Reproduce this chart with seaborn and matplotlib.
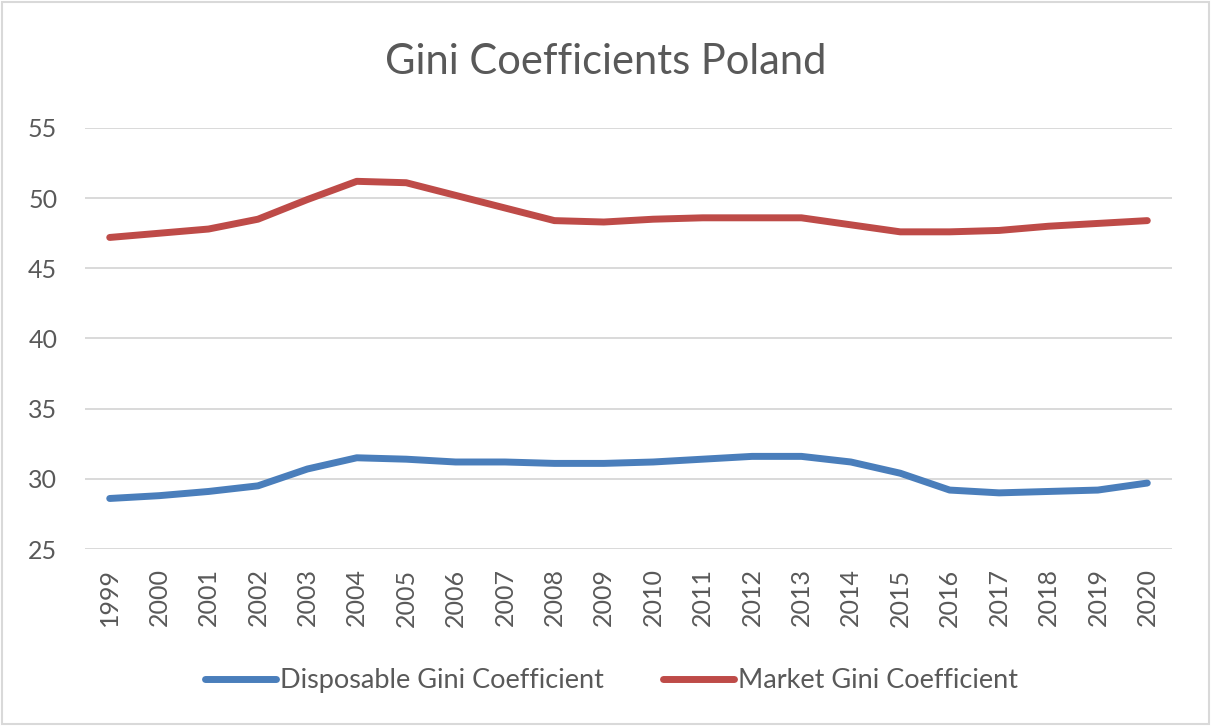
import matplotlib
matplotlib.use("Agg")
import matplotlib.pyplot as plt
import matplotlib.patches as mpatches
import seaborn as sns
import pandas as pd

years = list(range(1999, 2021))
disposable_gini = [28.6, 28.8, 29.1, 29.5, 30.7, 31.5, 31.4, 31.2, 31.2, 31.1, 31.1,
                   31.2, 31.4, 31.6, 31.6, 31.2, 30.4, 29.2, 29.0, 29.1, 29.2, 29.7]
market_gini = [47.2, 47.5, 47.8, 48.5, 49.9, 51.2, 51.1, 50.2, 49.3, 48.4, 48.3,
               48.5, 48.6, 48.6, 48.6, 48.1, 47.6, 47.6, 47.7, 48.0, 48.2, 48.4]
series_names = ["Disposable Gini Coefficient", "Market Gini Coefficient"]
title_text = "Gini Coefficients Poland"

df = pd.DataFrame({
    "Year": years * 2,
    "Gini": disposable_gini + market_gini,
    "Series": [series_names[0]] * len(years) + [series_names[1]] * len(years),
})

sns.set_theme(style="white")
plt.rcParams["font.family"] = ["Lato", "DejaVu Sans"]

text_grey = "#595959"
grid_grey = "#d9d9d9"
palette = {series_names[0]: "#4a7ebb", series_names[1]: "#be4b48"}
line_w = 5.0

fig = plt.figure(figsize=(12.11, 7.26), dpi=100)
ax = fig.add_axes([0.0702, 0.2438, 0.8976, 0.5799])

sns.lineplot(data=df, x="Year", y="Gini", hue="Series", palette=palette,
             linewidth=line_w, ax=ax, legend=False, solid_capstyle="round")

ax.set_xlim(1998.5, 2020.5)
ax.set_ylim(25, 55)
ax.set_yticks(range(25, 56, 5))
ax.set_xticks(years)
ax.set_xticklabels([str(y) for y in years], rotation=90)
ax.tick_params(axis="both", length=0, colors=text_grey, labelsize=18)
ax.tick_params(axis="y", pad=20)
ax.tick_params(axis="x", pad=14)
ax.set_xlabel("")
ax.set_ylabel("")
ax.grid(axis="y", color=grid_grey, linewidth=1.4)
ax.grid(axis="x", visible=False)
for side in ["top", "right", "left", "bottom"]:
    ax.spines[side].set_visible(False)
ax.set_axisbelow(True)

fig.text(0.5, 0.915, title_text, ha="center", va="center",
         fontsize=30, color=text_grey)

handles = [plt.Line2D([0], [0], color=palette[n], linewidth=line_w,
                      solid_capstyle="round") for n in series_names]
fig.legend(handles, series_names, loc="center", bbox_to_anchor=(0.505, 0.062),
           ncol=2, frameon=False, fontsize=19.5, labelcolor=text_grey,
           handlelength=2.6, handletextpad=0.15, columnspacing=2.2)

fig.patches.append(mpatches.Rectangle((0.002, 0.003), 0.996, 0.994,
                                      transform=fig.transFigure, fill=False,
                                      edgecolor="#d9d9d9", linewidth=1.5))

fig.savefig("out.png", dpi=100, facecolor="white")
